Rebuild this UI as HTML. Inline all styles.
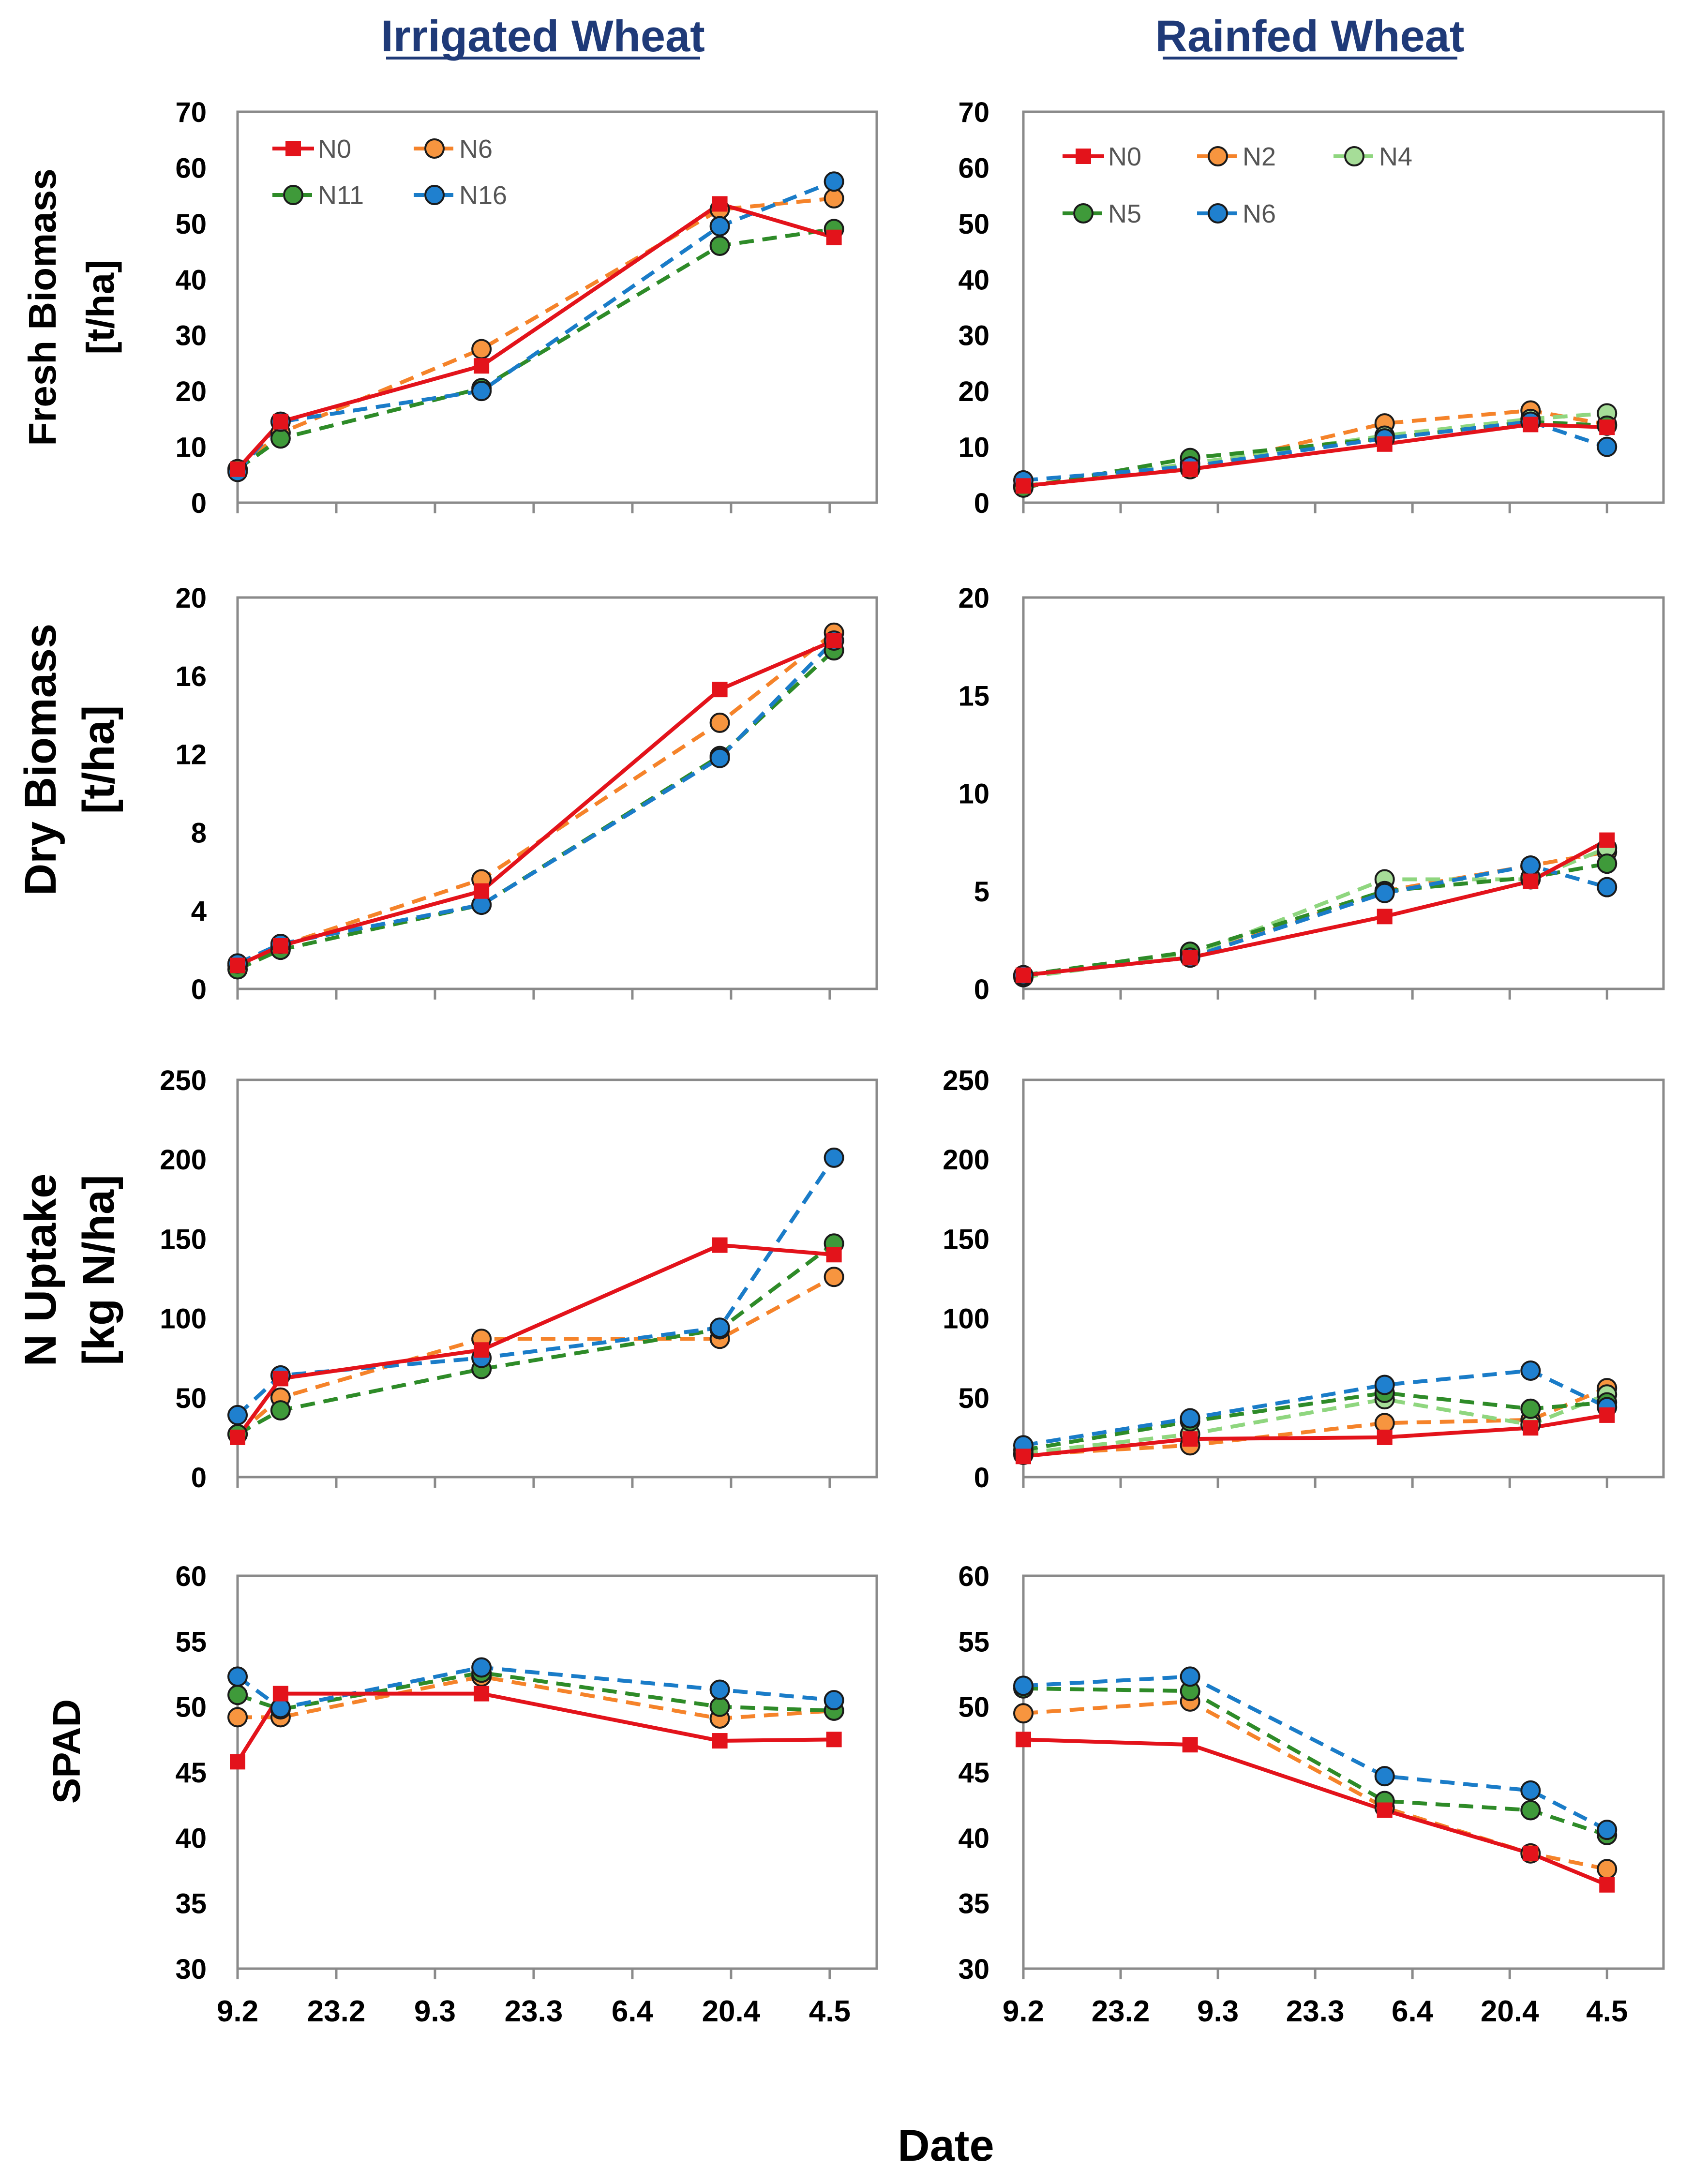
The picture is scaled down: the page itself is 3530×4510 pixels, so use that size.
<!DOCTYPE html>
<html><head><meta charset="utf-8">
<style>
html,body{margin:0;padding:0;background:#fff;}
svg{display:block;}
</style></head>
<body>
<svg id="fig" width="3530" height="4510" viewBox="0 0 3530 4510" xmlns="http://www.w3.org/2000/svg">
<rect width="3530" height="4510" fill="#fff"/>
<text x="1122" y="106" text-anchor="middle" font-family="Liberation Sans Narrow, Liberation Sans, sans-serif" font-weight="bold" font-size="92" fill="#1f3a78">Irrigated Wheat</text>
<line x1="798" y1="120" x2="1447" y2="120" stroke="#1f3a78" stroke-width="6"/>
<text x="2707" y="106" text-anchor="middle" font-family="Liberation Sans Narrow, Liberation Sans, sans-serif" font-weight="bold" font-size="92" fill="#1f3a78">Rainfed Wheat</text>
<line x1="2403" y1="120" x2="3012" y2="120" stroke="#1f3a78" stroke-width="6"/>
<g id="ylabels">
<text transform="translate(115,635) rotate(-90)" text-anchor="middle" font-family="Liberation Sans, sans-serif" font-weight="bold" font-size="80" fill="#000">Fresh Biomass</text>
<text transform="translate(235,635) rotate(-90)" text-anchor="middle" font-family="Liberation Sans, sans-serif" font-weight="bold" font-size="80" fill="#000">[t/ha]</text>
<text transform="translate(115,1570) rotate(-90)" text-anchor="middle" font-family="Liberation Sans Narrow, Liberation Sans, sans-serif" font-weight="bold" font-size="92" fill="#000">Dry Biomass</text>
<text transform="translate(235,1570) rotate(-90)" text-anchor="middle" font-family="Liberation Sans Narrow, Liberation Sans, sans-serif" font-weight="bold" font-size="92" fill="#000">[t/ha]</text>
<text transform="translate(115,2625) rotate(-90)" text-anchor="middle" font-family="Liberation Sans Narrow, Liberation Sans, sans-serif" font-weight="bold" font-size="92" fill="#000">N Uptake</text>
<text transform="translate(235,2625) rotate(-90)" text-anchor="middle" font-family="Liberation Sans Narrow, Liberation Sans, sans-serif" font-weight="bold" font-size="92" fill="#000">[kg N/ha]</text>
<text transform="translate(165,3620) rotate(-90)" text-anchor="middle" font-family="Liberation Sans, sans-serif" font-weight="bold" font-size="80" fill="#000">SPAD</text>
</g>
<text x="1955" y="4466" text-anchor="middle" font-family="Liberation Sans Narrow, Liberation Sans, sans-serif" font-weight="bold" font-size="92" fill="#000">Date</text>
<g id="plots"></g>
</svg>
<script>
// ---- data ----
const dateTickLabels = ["9.2","23.2","9.3","23.3","6.4","20.4","4.5"];
const dateTickDays = [0,14,28,42,56,70,84];
const irrDays = [0,6.1,34.6,68.4,84.6];
const rainDays = [0,24,52,73,84];

const irrFresh_N0 = [6,14.5,24.5,53.5,47.5];
const irrFresh_N6 = [6,12.5,27.5,52.5,54.5];
const irrFresh_N11 = [6,11.5,20.5,46,49];
const irrFresh_N16 = [5.5,14.5,20,49.5,57.5];
const rainFresh_N0 = [3,6,10.5,14,13.5];
const rainFresh_N2 = [3,6,14.2,16.5,14];
const rainFresh_N4 = [3,7,12,15,16];
const rainFresh_N5 = [2.7,8,11.5,14.5,13.8];
const rainFresh_N6 = [4,6.5,11.5,14.5,10];

const irrDry_N0 = [1.2,2.2,5.0,15.3,17.8];
const irrDry_N6 = [1.2,2.2,5.6,13.6,18.2];
const irrDry_N11 = [1.0,2.0,4.3,11.9,17.3];
const irrDry_N16 = [1.3,2.3,4.3,11.8,17.8];
const rainDry_N0 = [0.7,1.6,3.7,5.5,7.6];
const rainDry_N2 = [0.7,1.6,5.0,6.3,7.0];
const rainDry_N4 = [0.6,1.7,5.6,5.6,7.2];
const rainDry_N5 = [0.7,1.9,5.0,5.7,6.4];
const rainDry_N6 = [0.7,1.6,4.9,6.3,5.2];

const irrN_N0 = [25,62,80,146,140];
const irrN_N6 = [27,50,87,87,126];
const irrN_N11 = [27,42,68,93,147];
const irrN_N16 = [39,64,75,94,201];
const rainN_N0 = [13,24,25,31,39];
const rainN_N2 = [14,20,34,36,56];
const rainN_N4 = [15,27,49,33,52];
const rainN_N5 = [17,35,53,43,47];
const rainN_N6 = [20,37,58,67,44];

const irrSpad_N0 = [45.8,51.0,51.0,47.4,47.5];
const irrSpad_N6 = [49.2,49.2,52.3,49.1,49.7];
const irrSpad_N11 = [50.9,49.8,52.6,50.0,49.7];
const irrSpad_N16 = [52.3,49.9,53.0,51.3,50.5];
const rainSpad_N0 = [47.5,47.1,42.1,38.8,36.4];
const rainSpad_N2 = [49.5,50.4,42.3,38.8,37.6];
const rainSpad_N5 = [51.4,51.2,42.8,42.1,40.2];
const rainSpad_N6 = [51.6,52.3,44.7,43.6,40.6];

const freshTicks = [0,10,20,30,40,50,60,70];
const dryIrrTicks = [0,4,8,12,16,20];
const dryRainTicks = [0,5,10,15,20];
const nTicks = [0,50,100,150,200,250];
const spadTicks = [30,35,40,45,50,55,60];

// ---- styles ----
const ST = {
  red:{c:"#e3131b",fill:"#e3131b",dash:null,shape:"sq"},
  orange:{c:"#f5832a",fill:"#f7953f",dash:"30 18",shape:"c"},
  green:{c:"#2e8b28",fill:"#3f9a3a",dash:"30 18",shape:"c"},
  lgreen:{c:"#8fd67f",fill:"#a6dd98",dash:"30 18",shape:"c"},
  blue:{c:"#1a7cc8",fill:"#1f80cf",dash:"30 18",shape:"c"}
};
const NS="http://www.w3.org/2000/svg";
const plots=document.getElementById('plots');
function mk(tag,attrs,parent){const e=document.createElementNS(NS,tag);for(const k in attrs)e.setAttribute(k,attrs[k]);(parent||plots).appendChild(e);return e;}

const COLS = {irr:{x0:491,x1:1812,lab:427,pxDay:14.57}, rain:{x0:2115,x1:3438,lab:2045,pxDay:14.36}};
const ROWS = [{y0:231,y1:1039},{y0:1235,y1:2044},{y0:2232,y1:3053},{y0:3257,y1:4069}];

function panel(name,col,row,ticks,series,days,showX,legend){
  const C=COLS[col],R=ROWS[row];
  const ymin=ticks[0],ymax=ticks[ticks.length-1];
  const xs=d=>C.x0+d*C.pxDay;
  const ys=v=>R.y1-(v-ymin)*(R.y1-R.y0)/(ymax-ymin);
  const g=mk('g',{});
  
  
  const box=mk('rect',{x:C.x0,y:R.y0,width:C.x1-C.x0,height:R.y1-R.y0,fill:'none',stroke:'#8a8a8a','stroke-width':5},g);
  
  
  ticks.forEach(t=>{
    const tx=mk('text',{x:C.lab,y:ys(t)+21,'text-anchor':'end','font-family':'Liberation Sans, sans-serif','font-weight':'bold','font-size':58,fill:'#000'},g);
    tx.textContent=t;
    
    
  });
  dateTickDays.forEach((d,i)=>{
    const tl=mk('line',{x1:xs(d),x2:xs(d),y1:R.y1,y2:R.y1+22,stroke:'#8a8a8a','stroke-width':5},g);
    
    
    if(showX){
      const tx=mk('text',{x:xs(d),y:4178,'text-anchor':'middle','font-family':'Liberation Sans Narrow, Liberation Sans, sans-serif','font-weight':'bold','font-size':62,fill:'#000'},g);
      tx.textContent=dateTickLabels[i];
      
      
    }
  });
  const order=series.slice(1).concat([series[0]]);
  order.forEach(s=>{
    const st=ST[s.style];
    const pts=s.vals.map((v,i)=>xs(days[i])+','+ys(v)).join(' ');
    const pl=mk('polyline',{points:pts,fill:'none',stroke:st.c,'stroke-width':8,'stroke-linejoin':'round'},g);
    if(st.dash)pl.setAttribute('stroke-dasharray',st.dash);
    
    
  });
  order.forEach(s=>{
    const st=ST[s.style];
    s.vals.forEach((v,i)=>{
      let m;
      if(st.shape==='sq') m=mk('rect',{x:xs(days[i])-16,y:ys(v)-16,width:32,height:32,fill:st.fill},g);
      else m=mk('circle',{cx:xs(days[i]),cy:ys(v),r:19,fill:st.fill,stroke:'#1a1a1a','stroke-width':4},g);
      
      
    });
  });
  if(legend){
    series.forEach((s,i)=>{
      const st=ST[s.style];
      const lx=legend.x[i%legend.per], ly=legend.y[Math.floor(i/legend.per)];
      const lg=mk('g',{},g);
      
      
      const ln=mk('line',{x1:lx,x2:lx+86,y1:ly,y2:ly,stroke:st.c,'stroke-width':8},lg);
      if(st.dash)ln.setAttribute('stroke-dasharray','22 8');
      if(st.shape==='sq') mk('rect',{x:lx+27,y:ly-16,width:32,height:32,fill:st.fill},lg);
      else mk('circle',{cx:lx+43,cy:ly,r:19,fill:st.fill,stroke:'#1a1a1a','stroke-width':4},lg);
      const t=mk('text',{x:lx+94,y:ly+19,'font-family':'Liberation Sans Narrow, Liberation Sans, sans-serif','font-size':54,fill:'#555'},lg);
      t.textContent=s.label;
    });
  }
}

const irrLegend={x:[563,855],y:[307,403],per:2};
const rainLegend={x:[2196,2474,2756],y:[323,441],per:3};

panel('irrigated-fresh','irr',0,freshTicks,[
 {label:'N0',style:'red',vals:irrFresh_N0},{label:'N6',style:'orange',vals:irrFresh_N6},
 {label:'N11',style:'green',vals:irrFresh_N11},{label:'N16',style:'blue',vals:irrFresh_N16}],irrDays,false,irrLegend);
panel('rainfed-fresh','rain',0,freshTicks,[
 {label:'N0',style:'red',vals:rainFresh_N0},{label:'N2',style:'orange',vals:rainFresh_N2},
 {label:'N4',style:'lgreen',vals:rainFresh_N4},{label:'N5',style:'green',vals:rainFresh_N5},
 {label:'N6',style:'blue',vals:rainFresh_N6}],rainDays,false,rainLegend);
panel('irrigated-dry','irr',1,dryIrrTicks,[
 {label:'N0',style:'red',vals:irrDry_N0},{label:'N6',style:'orange',vals:irrDry_N6},
 {label:'N11',style:'green',vals:irrDry_N11},{label:'N16',style:'blue',vals:irrDry_N16}],irrDays,false,null);
panel('rainfed-dry','rain',1,dryRainTicks,[
 {label:'N0',style:'red',vals:rainDry_N0},{label:'N2',style:'orange',vals:rainDry_N2},
 {label:'N4',style:'lgreen',vals:rainDry_N4},{label:'N5',style:'green',vals:rainDry_N5},
 {label:'N6',style:'blue',vals:rainDry_N6}],rainDays,false,null);
panel('irrigated-n-uptake','irr',2,nTicks,[
 {label:'N0',style:'red',vals:irrN_N0},{label:'N6',style:'orange',vals:irrN_N6},
 {label:'N11',style:'green',vals:irrN_N11},{label:'N16',style:'blue',vals:irrN_N16}],irrDays,false,null);
panel('rainfed-n-uptake','rain',2,nTicks,[
 {label:'N0',style:'red',vals:rainN_N0},{label:'N2',style:'orange',vals:rainN_N2},
 {label:'N4',style:'lgreen',vals:rainN_N4},{label:'N5',style:'green',vals:rainN_N5},
 {label:'N6',style:'blue',vals:rainN_N6}],rainDays,false,null);
panel('irrigated-spad','irr',3,spadTicks,[
 {label:'N0',style:'red',vals:irrSpad_N0},{label:'N6',style:'orange',vals:irrSpad_N6},
 {label:'N11',style:'green',vals:irrSpad_N11},{label:'N16',style:'blue',vals:irrSpad_N16}],irrDays,true,null);
panel('rainfed-spad','rain',3,spadTicks,[
 {label:'N0',style:'red',vals:rainSpad_N0},{label:'N2',style:'orange',vals:rainSpad_N2},
 {label:'N5',style:'green',vals:rainSpad_N5},{label:'N6',style:'blue',vals:rainSpad_N6}],rainDays,true,null);
</script>
</body></html>
